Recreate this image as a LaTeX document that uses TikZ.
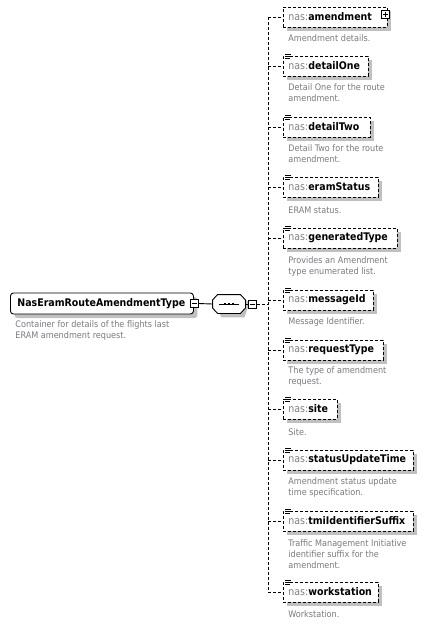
\documentclass[tikz,border=0pt]{standalone}
\usepackage{fontspec}
\setmainfont{DejaVu Sans Condensed}
\usetikzlibrary{shadows,calc}
\definecolor{nsgray}{RGB}{128,128,128}
\definecolor{descgray}{RGB}{122,122,130}
\definecolor{shgray}{RGB}{192,192,192}
\begin{document}
\begin{tikzpicture}[x=1pt,y=-1pt,line width=0.9pt,
  dsh/.style={dash pattern=on 3pt off 2pt},
  shad/.style={drop shadow={shadow xshift=4pt,shadow yshift=-4pt,fill=shgray,opacity=1}},
  elem/.style={draw,dsh,fill=white,shad,anchor=west,minimum height=20pt,inner xsep=5pt,inner ysep=0pt,align=left,text width=#1,font=\fontsize{10.5}{12}\selectfont},
  desc/.style={anchor=north west,inner sep=0pt,align=left,text=descgray,font=\fontsize{9}{11}\selectfont},
  pm/.style={draw,solid,fill=white,line width=0.8pt,minimum size=8pt,inner sep=0pt},
  link/.style={dsh}]
\useasboundingbox (0,0) rectangle (427,625);
\fill[white] (0,0) rectangle (427,625);
\newcommand{\nsn}[1]{\textcolor{nsgray}{nas:}\textbf{#1}}
\newcommand{\simpleicon}[1]{\draw[solid,line width=0.8pt] ($(#1.north west)+(2,-1.5)$) -- ++(6,0) ($(#1.north west)+(2,0.5)$) -- ++(5,0) ($(#1.north west)+(2,2.5)$) -- ++(5,0);}

% main type
\node[draw,solid,fill=white,shad,rounded corners=3pt,anchor=west,minimum height=21pt,inner xsep=7pt,inner ysep=0pt,text width=169pt,align=left,font=\fontsize{10.5}{12}\selectfont\bfseries] (main) at (10,303.5) {NasEramRouteAmendmentType};
\node[desc] (maindesc) at (15,320) {Container for details of the flights last\\ERAM amendment request.};
\node[pm] (mainminus) at (194,303.5) {};
\draw[solid,line width=0.8pt] ($(mainminus.center)+(-2.5,0)$) -- ($(mainminus.center)+(2.5,0)$);

% sequence compositor
\node[minimum width=32pt,minimum height=18pt,inner sep=0pt] (seq) at (229,304) {};
\fill[shgray] ($(seq.north west)+(9,4)$) -- ($(seq.north east)+(-1,4)$) -- ($(seq.east)+(4,-1)$) -- ($(seq.south east)+(-1,4)$) -- ($(seq.south west)+(9,4)$) -- ($(seq.west)+(4,4)$) -- cycle;
\draw[solid,fill=white] ($(seq.north west)+(5,0)$) -- ($(seq.north east)+(-5,0)$) -- ($(seq.east)+(0,-4)$) -- ($(seq.east)+(0,4)$) -- ($(seq.south east)+(-5,0)$) -- ($(seq.south west)+(5,0)$) -- ($(seq.west)+(0,4)$) -- ($(seq.west)+(0,-4)$) -- cycle;
\draw[solid,line width=0.8pt] ($(seq.center)+(-10,0)$) -- ($(seq.center)+(10,0)$);
\foreach \dx in {-4,0,4} \fill ($(seq.center)+(\dx-1.4,-1.4)$) rectangle ++(2.8,2.8);
\node[pm] (seqminus) at (252.5,304) {};
\draw[solid,line width=0.8pt] ($(seqminus.center)+(-2.5,0)$) -- ($(seqminus.center)+(2.5,0)$);
\draw[solid] (mainminus.east) -- (seq.west);
\draw[solid] (seq.east) -- (seqminus.west);

% spine
\coordinate (vtop) at (268,17);
\coordinate (vbot) at (268,592);
\coordinate (vmid) at (268,304);
\draw[link] (vtop) -- (vbot);
\draw[link] (seqminus.east) -- (vmid);

% children
\node[elem=94pt] (c1) at (283,17) {\nsn{amendment}};
\node[pm] (c1plus) at (385.5,14.5) {};
\draw[solid,line width=0.8pt] ($(c1plus.center)+(-2.5,0)$) -- ($(c1plus.center)+(2.5,0)$) ($(c1plus.center)+(0,-2.5)$) -- ($(c1plus.center)+(0,2.5)$);
\node[desc] (d1) at (288,34) {Amendment details.};

\node[elem=75pt] (c2) at (283,66) {\nsn{detailOne}};
\simpleicon{c2}
\node[desc] (d2) at (288,83) {Detail One for the route\\amendment.};

\node[elem=77pt] (c3) at (283,127) {\nsn{detailTwo}};
\simpleicon{c3}
\node[desc] (d3) at (288,144) {Detail Two for the route\\amendment.};

\node[elem=85pt] (c4) at (283,187) {\nsn{eramStatus}};
\simpleicon{c4}
\node[desc] (d4) at (288,206) {ERAM status.};

\node[elem=104pt] (c5) at (283,238) {\nsn{generatedType}};
\simpleicon{c5}
\node[desc] (d5) at (288,256) {Provides an Amendment\\type enumerated list.};

\node[elem=80pt] (c6) at (283,300) {\nsn{messageId}};
\simpleicon{c6}
\node[desc] (d6) at (288,317) {Message Identifier.};

\node[elem=90pt] (c7) at (283,350) {\nsn{requestType}};
\simpleicon{c7}
\node[desc] (d7) at (288,366) {The type of amendment\\request.};

\node[elem=44pt] (c8) at (283,409) {\nsn{site}};
\simpleicon{c8}
\node[desc] (d8) at (288,428) {Site.};

\node[elem=120pt] (c9) at (283,460) {\nsn{statusUpdateTime}};
\simpleicon{c9}
\node[desc] (d9) at (288,477) {Amendment status update\\time specification.};

\node[elem=120pt] (c10) at (283,521) {\nsn{tmiIdentifierSuffix}};
\simpleicon{c10}
\node[desc] (d10) at (288,539) {Traffic Management Initiative\\identifier suffix for the\\amendment.};

\node[elem=85pt] (c11) at (283,592) {\nsn{workstation}};
\simpleicon{c11}
\node[desc] (d11) at (288,610) {Workstation.};

\foreach \i/\y in {1/17,2/66,3/127,4/187,5/238,6/300,7/350,8/409,9/460,10/521,11/592}{
  \coordinate (h\i) at (268,\y);
  \draw[link] (h\i) -- (c\i.west);
}
\end{tikzpicture}
\end{document}
